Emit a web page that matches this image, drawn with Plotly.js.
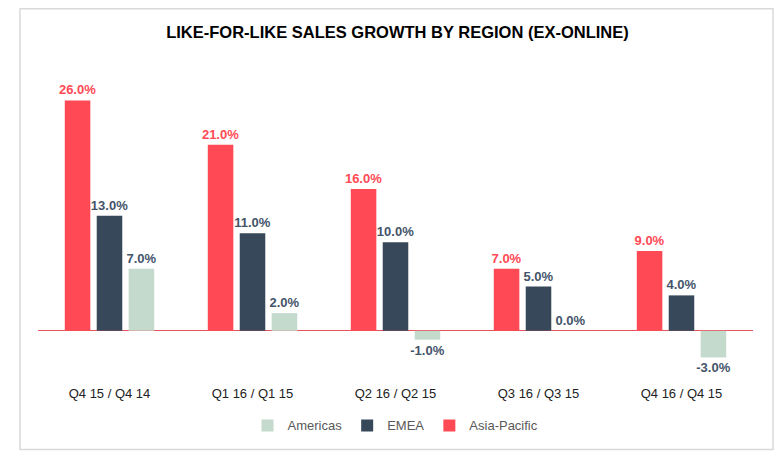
<!DOCTYPE html>
<html><head><meta charset="utf-8">
<script src="https://cdn.plot.ly/plotly-3.0.1.min.js"></script>
<style>html,body{margin:0;padding:0;background:#fff}#chart{width:784px;height:459px}</style>
</head><body><div id="chart"></div>
<script>
const categories = ["Q4 15 / Q4 14", "Q1 16 / Q1 15", "Q2 16 / Q2 15", "Q3 16 / Q3 15", "Q4 16 / Q4 15"];
const asiaPacific = [26, 21, 16, 7, 9];
const emea = [13, 11, 10, 5, 4];
const americas = [7, 2, -1, 0, -3];
const seriesNames = ["Asia-Pacific", "EMEA", "Americas"];

const FONT = "'Liberation Sans Narrow', 'Arial Narrow', 'Liberation Sans', Arial, sans-serif";
const fmt = v => v.toFixed(1) + "%";

function mk(name, vals, color, textColor) {
  return {
    type: "bar", name: name, x: categories, y: vals,
    marker: {color: color},
    text: vals.map(fmt), textposition: "outside", constraintext: "none",
    cliponaxis: false,
    textfont: {family: FONT, size: 13, color: textColor, weight: "bold"},
    hoverinfo: "skip"
  };
}

const data = [
  mk(seriesNames[0], asiaPacific, "#FF4A55", "#FF4A55"),
  mk(seriesNames[1], emea, "#364859", "#44546A"),
  mk(seriesNames[2], americas, "#C4DACD", "#44546A")
];

const layout = {
  width: 784, height: 459,
  margin: {l: 38, r: 31, t: 64.5, b: 74.5},
  paper_bgcolor: "#fff", plot_bgcolor: "#fff",
  font: {family: FONT, color: "#333"},
  title: {text: "<b>LIKE-FOR-LIKE SALES GROWTH BY REGION (EX-ONLINE)</b>", x: 0.507, xanchor: "center", y: 0.93, yanchor: "middle",
          font: {family: FONT, size: 16.5, color: "#000"}},
  barmode: "group", bargap: 0.33, bargroupgap: 0.2,
  showlegend: true,
  legend: {orientation: "h", traceorder: "reversed", x: 0.5, xanchor: "center", y: -0.13, yanchor: "middle",
           font: {family: FONT, size: 13, color: "#595959"}, itemwidth: 30},
  xaxis: {showgrid: false, showline: false, zeroline: false, ticks: "",
          tickfont: {family: FONT, size: 13, color: "#222"}, fixedrange: true},
  yaxis: {range: [-6, 30], showgrid: false, showline: false, showticklabels: false,
          zeroline: true, zerolinecolor: "#E8545E", zerolinewidth: 1, ticks: "", fixedrange: true},
  shapes: [{type: "rect", xref: "paper", yref: "paper", x0: -0.0252, x1: 1.028, y0: -0.205, y1: 1.176,
            line: {color: "#D9D9D9", width: 1.5}, fillcolor: "rgba(0,0,0,0)", layer: "below"}]
};

Plotly.newPlot("chart", data, layout, {displayModeBar: false, staticPlot: true});
</script></body></html>
